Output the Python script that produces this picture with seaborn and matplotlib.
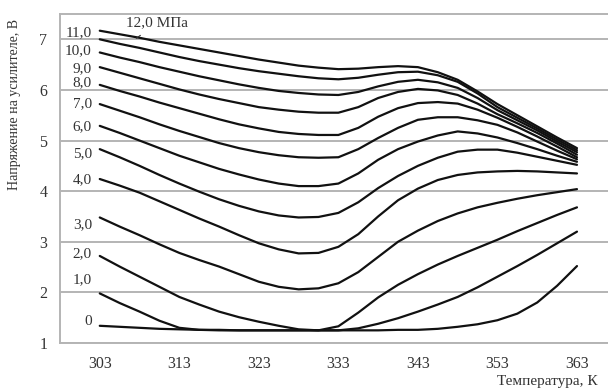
import matplotlib
matplotlib.use("Agg")
import matplotlib.pyplot as plt
import seaborn as sns
import pandas as pd

# Temperature, K (values read every 2.5 K)
temps = [303, 305.5, 308, 310.5, 313, 315.5, 318, 320.5, 323, 325.5, 328, 330.5, 333,
         335.5, 338, 340.5, 343, 345.5, 348, 350.5, 353, 355.5, 358, 360.5, 363]

# Amplifier voltage (V) for each pressure, MPa
u_0 = [1.34, 1.32, 1.30, 1.28, 1.27, 1.26, 1.26, 1.25, 1.25, 1.25, 1.25, 1.25, 1.25,
       1.25, 1.25, 1.26, 1.26, 1.28, 1.32, 1.37, 1.45, 1.58, 1.80, 2.13, 2.52]
u_1 = [1.98, 1.79, 1.62, 1.44, 1.30, 1.26, 1.25, 1.25, 1.25, 1.25, 1.25, 1.25, 1.25,
       1.29, 1.38, 1.49, 1.62, 1.76, 1.91, 2.10, 2.31, 2.52, 2.74, 2.97, 3.20]
u_2 = [2.72, 2.51, 2.31, 2.11, 1.91, 1.76, 1.62, 1.51, 1.42, 1.34, 1.27, 1.25, 1.33,
       1.60, 1.90, 2.15, 2.36, 2.55, 2.72, 2.88, 3.04, 3.21, 3.37, 3.53, 3.68]
u_3 = [3.48, 3.30, 3.13, 2.95, 2.78, 2.64, 2.51, 2.36, 2.21, 2.11, 2.06, 2.08, 2.18,
       2.40, 2.70, 3.00, 3.22, 3.41, 3.56, 3.68, 3.77, 3.85, 3.92, 3.98, 4.04]
u_4 = [4.24, 4.11, 3.97, 3.80, 3.63, 3.46, 3.30, 3.13, 2.97, 2.85, 2.77, 2.78, 2.90,
       3.15, 3.50, 3.82, 4.05, 4.22, 4.32, 4.37, 4.39, 4.40, 4.39, 4.37, 4.35]
u_5 = [4.83, 4.67, 4.50, 4.32, 4.15, 3.99, 3.84, 3.71, 3.60, 3.52, 3.48, 3.49, 3.57,
       3.78, 4.06, 4.30, 4.50, 4.66, 4.78, 4.82, 4.82, 4.76, 4.68, 4.60, 4.52]
u_6 = [5.29, 5.15, 5.00, 4.85, 4.70, 4.57, 4.44, 4.33, 4.23, 4.15, 4.10, 4.10, 4.15,
       4.35, 4.62, 4.83, 4.98, 5.10, 5.18, 5.14, 5.06, 4.95, 4.83, 4.70, 4.58]
u_7 = [5.72, 5.59, 5.46, 5.32, 5.19, 5.07, 4.95, 4.85, 4.77, 4.71, 4.67, 4.66, 4.67,
       4.83, 5.05, 5.25, 5.41, 5.46, 5.46, 5.40, 5.31, 5.16, 4.98, 4.80, 4.63]
u_8 = [6.10, 5.98, 5.87, 5.75, 5.64, 5.53, 5.42, 5.32, 5.24, 5.17, 5.13, 5.11, 5.11,
       5.25, 5.47, 5.64, 5.74, 5.76, 5.73, 5.61, 5.45, 5.27, 5.08, 4.88, 4.67]
u_9 = [6.45, 6.34, 6.23, 6.12, 6.01, 5.91, 5.82, 5.74, 5.66, 5.61, 5.57, 5.55, 5.55,
       5.66, 5.84, 5.96, 6.02, 5.99, 5.90, 5.73, 5.52, 5.34, 5.15, 4.94, 4.72]
u_10 = [6.74, 6.64, 6.55, 6.45, 6.36, 6.27, 6.19, 6.11, 6.04, 5.98, 5.94, 5.91, 5.90,
        5.96, 6.07, 6.16, 6.20, 6.15, 6.04, 5.84, 5.60, 5.40, 5.20, 4.98, 4.77]
u_11 = [7.00, 6.91, 6.83, 6.74, 6.65, 6.57, 6.50, 6.43, 6.37, 6.32, 6.27, 6.23, 6.21,
        6.24, 6.30, 6.35, 6.36, 6.29, 6.16, 5.93, 5.66, 5.45, 5.24, 5.02, 4.81]
u_12 = [7.17, 7.10, 7.03, 6.95, 6.88, 6.81, 6.74, 6.67, 6.60, 6.54, 6.48, 6.44, 6.41,
        6.42, 6.45, 6.47, 6.45, 6.35, 6.20, 5.97, 5.72, 5.50, 5.28, 5.06, 4.85]

curves = [u_0, u_1, u_2, u_3, u_4, u_5, u_6, u_7, u_8, u_9, u_10, u_11, u_12]

# curve labels at the left end
curve_labels = ["0", "1,0", "2,0", "3,0", "4,0", "5,0", "6,0", "7,0", "8,0", "9,0", "10,0", "11,0"]
label_y = [1.43, 2.26, 2.76, 3.33, 4.22, 4.75, 5.27, 5.72, 6.14, 6.42, 6.77, 7.13]

x_ticks = [303, 313, 323, 333, 343, 353, 363]
y_ticks = [1, 2, 3, 4, 5, 6, 7]

rows = []
for i, vals in enumerate(curves):
    for t, v in zip(temps, vals):
        rows.append({"T": t, "U": v, "P": i})
df = pd.DataFrame(rows)

sns.set_style("white")
plt.rcParams["font.family"] = ["Liberation Serif", "DejaVu Serif"]

fig = plt.figure(figsize=(6.08, 3.88), dpi=100)
ax = fig.add_axes([60 / 608, 45 / 388, 548 / 608, 329 / 388])

grid_col = "#b4b4b4"
for yv in y_ticks:
    ax.axhline(yv, color=grid_col, lw=1.4, zorder=0)

sns.lineplot(data=df, x="T", y="U", units="P", estimator=None,
             color="#111111", lw=1.6, ax=ax, legend=False)

ax.set_xlim(298.0, 366.9)
ax.set_ylim(1, 7.5)
ax.set_xticks(x_ticks)
ax.set_xticks([308, 318, 328, 338, 348, 358], minor=True)
ax.set_yticks(y_ticks)
ax.tick_params(axis="x", which="major", direction="inout", length=6, width=1,
               color=grid_col, labelsize=11.5, labelcolor="#333333", pad=6)
ax.tick_params(axis="x", which="minor", direction="out", length=4, width=1,
               color=grid_col)
ax.tick_params(axis="y", direction="out", length=4, width=1, color=grid_col,
               labelsize=11.5, labelcolor="#333333", pad=5)
ax.set_xlabel("")
ax.set_ylabel("")

for side in ["left", "bottom", "top"]:
    ax.spines[side].set_color(grid_col)
    ax.spines[side].set_linewidth(1.4)
ax.spines["right"].set_visible(False)

for txt, yv in zip(curve_labels, label_y):
    ax.text(302.0, yv, txt, ha="right", va="center", fontsize=11, color="#333333")

ax.annotate("12,0 МПа", xy=(307.6, 7.02), xytext=(310.2, 7.32),
            ha="center", va="center", fontsize=11, color="#333333",
            arrowprops=dict(arrowstyle="-", color="#333333", lw=0.8,
                            shrinkA=3, shrinkB=0))

fig.text(15 / 608, 1 - 104 / 388, "Напряжение на усилителе, В", rotation=90,
         ha="center", va="center", fontsize=10, color="#333333")
fig.text(598 / 608, 1 - 381 / 388, "Температура, К", ha="right", va="center",
         fontsize=11, color="#333333")

fig.savefig("out.png", dpi=100)
